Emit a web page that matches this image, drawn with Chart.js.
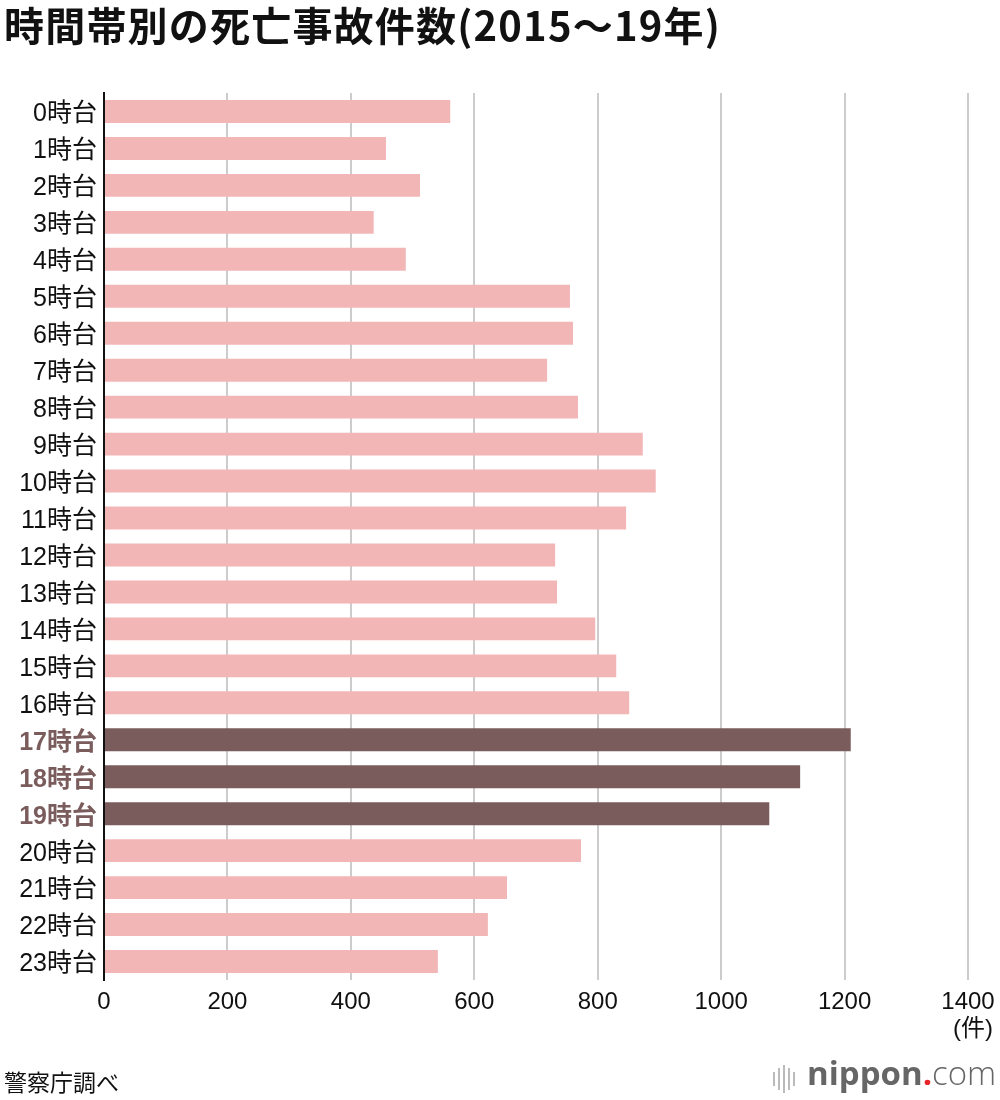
<!DOCTYPE html>
<html>
<head>
<meta charset="utf-8">
<script src="https://cdn.jsdelivr.net/npm/chart.js@4"></script>
<style>
  html, body { margin: 0; padding: 0; background: #fff; }
  #wrap { position: relative; width: 1000px; height: 1100px; overflow: hidden; font-family: "Noto Sans CJK JP", "Noto Sans", sans-serif; }
  #title { position: absolute; left: 4px; top: 0px; font-size: 40px; font-weight: 700; color: #111; white-space: nowrap; line-height: 48px; letter-spacing: 1.2px; }
  #unit { position: absolute; right: 7px; top: 1008px; font-size: 24px; color: #111; white-space: nowrap; font-family: "Liberation Sans", "Noto Sans CJK JP", sans-serif; }
  #source { position: absolute; left: 4px; top: 1066px; font-size: 23px; color: #111; white-space: nowrap; line-height: 30px; }
  #logo { position: absolute; left: 773px; top: 1058px; height: 40px; white-space: nowrap; font-family: "Open Sans", sans-serif; color: #666; }
  #logo .bars { display: inline-block; position: relative; width: 30px; height: 40px; vertical-align: top; }
  #logo .bars i { position: absolute; width: 2px; background: #bbb; }
  #logo .txt { position: absolute; left: 34px; top: -5px; font-size: 33px; line-height: 40px; }
  #logo b { font-weight: 700; }
  #logo .dot { color: #e8262a; font-weight: 700; }
  #logo .com { font-weight: 300; }
  canvas { position: absolute; left: 0; top: 0; }
</style>
</head>
<body>
<div id="wrap">
  <canvas id="c" width="1000" height="1100"></canvas>
  <div id="title">時間帯別の死亡事故件数(2015〜19年)</div>
  <div id="unit">(件)</div>
  <div id="source">警察庁調べ</div>
  <div id="logo">
    <span class="bars">
      <i style="left:0px;top:14px;height:14px"></i>
      <i style="left:5px;top:10px;height:22px"></i>
      <i style="left:10px;top:7px;height:28px"></i>
      <i style="left:15px;top:10px;height:22px"></i>
      <i style="left:20px;top:14px;height:14px"></i>
    </span>
    <span class="txt"><b>nippon</b><span class="dot">.</span><span class="com">com</span></span>
  </div>
</div>
<script>
const categories = ["0時台","1時台","2時台","3時台","4時台","5時台","6時台","7時台","8時台","9時台","10時台","11時台","12時台","13時台","14時台","15時台","16時台","17時台","18時台","19時台","20時台","21時台","22時台","23時台"];
const values = [561, 457, 512, 437, 489, 755, 760, 718, 768, 873, 894, 846, 731, 734, 796, 830, 851, 1210, 1128, 1078, 773, 653, 622, 541];
const highlighted = ["17時台","18時台","19時台"];
const xTicks = [0, 200, 400, 600, 800, 1000, 1200, 1400];

const pink = "#f2b6b7";
const dark = "#7a5c5c";

new Chart(document.getElementById("c"), {
  type: "bar",
  data: {
    labels: categories,
    datasets: [{
      data: values,
      backgroundColor: categories.map(c => highlighted.includes(c) ? dark : pink),
      borderWidth: 0,
      barPercentage: 0.62,
      categoryPercentage: 1.0
    }]
  },
  options: {
    indexAxis: "y",
    responsive: false,
    animation: false,
    devicePixelRatio: 1,
    layout: { padding: { left: 0, top: 93, right: 32, bottom: 60 } },
    plugins: { legend: { display: false }, tooltip: { enabled: false }, title: { display: false } },
    scales: {
      x: {
        min: 0, max: 1400,
        afterBuildTicks: s => { s.ticks = xTicks.map(v => ({ value: v })); },
        afterFit: s => { s.height = 60; s.paddingLeft = 0; s.paddingRight = 0; },
        border: { display: false },
        grid: { color: "#cccccc", lineWidth: 2, drawTicks: false },
        ticks: {
          color: "#111",
          padding: 8,
          maxRotation: 0,
          callback: v => String(v),
          font: { family: "Liberation Sans", size: 24 }
        }
      },
      y: {
        afterFit: s => { s.width = 104; },
        border: { display: true, color: "#111", width: 2 },
        grid: { display: false, drawTicks: false },
        ticks: {
          padding: 7,
          labelOffset: 3,
          color: ctx => highlighted.includes(categories[ctx.index]) ? dark : "#111",
          font: ctx => ({ family: "'Liberation Sans', 'Noto Sans CJK JP'", size: 25, weight: highlighted.includes(categories[ctx.index]) ? "bold" : "normal" })
        }
      }
    }
  }
});
</script>
</body>
</html>
